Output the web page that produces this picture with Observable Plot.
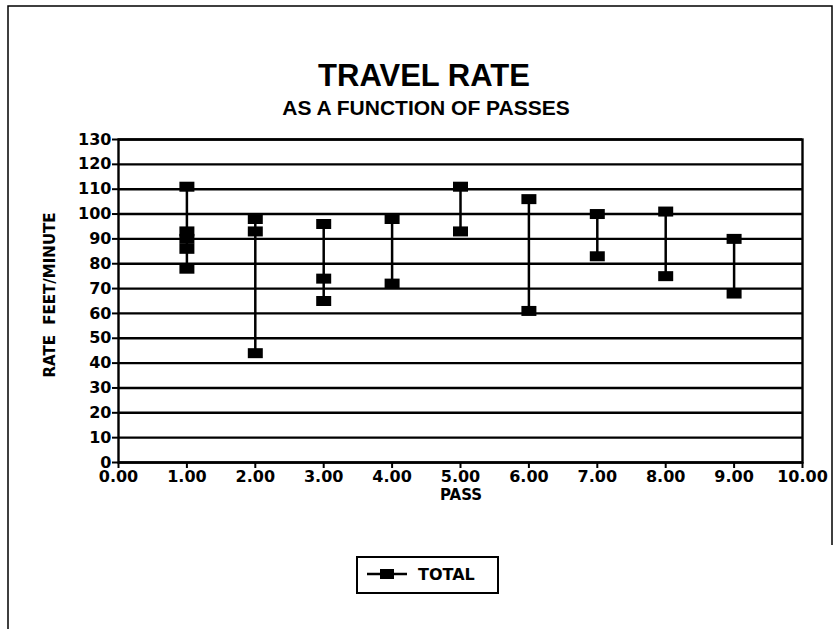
<!DOCTYPE html>
<html>
<head>
<meta charset="utf-8">
<script src="https://cdn.jsdelivr.net/npm/d3@7"></script>
<script src="https://cdn.jsdelivr.net/npm/@observablehq/plot@0.6"></script>
<style>
  html, body { margin: 0; padding: 0; background: #fff; }
  #chart { width: 840px; height: 629px; }
</style>
</head>
<body>
<div id="chart"></div>
<script>
// Data
const passes = [1, 1, 1, 1, 1, 2, 2, 2, 3, 3, 3, 4, 4, 5, 5, 6, 6, 7, 7, 8, 8, 9, 9];
const rates  = [111, 93, 90, 86, 78, 98, 93, 44, 96, 74, 65, 98, 72, 111, 93, 106, 61, 100, 83, 101, 75, 90, 68];
const xTicks = [0, 1, 2, 3, 4, 5, 6, 7, 8, 9, 10];
const yTicks = [0, 10, 20, 30, 40, 50, 60, 70, 80, 90, 100, 110, 120, 130];
const titleText = "TRAVEL RATE";
const subtitleText = "AS A FUNCTION OF PASSES";
const yLabel = "RATE  FEET/MINUTE";
const xLabel = "PASS";
const seriesName = "TOTAL";

const table = passes.map((p, i) => ({pass: p, rate: rates[i]}));

const FONT = "Liberation Sans, Arial, Helvetica, sans-serif";
const TICKFONT = "DejaVu Sans, Liberation Sans, Arial, sans-serif";

// rectangular block marker
const blockSymbol = {
  draw(ctx) { ctx.rect(-7.5, -5, 15, 10); }
};

const svg = Plot.plot({
  width: 840,
  height: 629,
  marginLeft: 118,
  marginRight: 38,
  marginTop: 139,
  marginBottom: 167,
  style: {fontFamily: TICKFONT, fontWeight: "bold", fontSize: "16px", color: "black", background: "white", overflow: "visible"},
  x: {domain: [0, 10]},
  y: {domain: [0, 130]},
  marks: [
    Plot.ruleY(yTicks, {stroke: "black", strokeWidth: 2.4}),
    Plot.frame({stroke: "black", strokeWidth: 2.4}),
    Plot.axisY({ticks: yTicks, tickSize: 6, tickPadding: 1, label: null, fontSize: 16, fontWeight: "bold", strokeWidth: 2}),
    Plot.axisX({ticks: xTicks, tickSize: 6, tickPadding: 2, tickFormat: d3.format(".2f"), label: null, fontSize: 16, fontWeight: "bold", strokeWidth: 2}),
    Plot.ruleX(table, Plot.groupX({y1: "min", y2: "max"}, {x: "pass", y1: "rate", y2: "rate", stroke: "black", strokeWidth: 2.5})),
    Plot.dot(table, {x: "pass", y: "rate", symbol: blockSymbol, r: 5, fill: "black", stroke: "none"})
  ]
});

document.getElementById("chart").appendChild(svg);

const s = d3.select(svg);
// outer border
s.append("path").attr("d", "M8,629V6H832V545").attr("fill", "none").attr("stroke", "black").attr("stroke-width", 1.5);

// titles
s.append("text").text(titleText)
  .attr("x", 424).attr("y", 86).attr("text-anchor", "middle")
  .attr("font-family", FONT).attr("font-weight", "bold").attr("font-size", 31).attr("fill", "black");
s.append("text").text(subtitleText)
  .attr("x", 426).attr("y", 115).attr("text-anchor", "middle")
  .attr("font-family", FONT).attr("font-weight", "bold").attr("font-size", 21).attr("fill", "black");

// axis titles
s.append("text").text(yLabel)
  .attr("transform", "translate(55,295) rotate(-90)").attr("text-anchor", "middle")
  .style("white-space", "pre")
  .attr("font-family", TICKFONT).attr("font-weight", "bold").attr("font-size", 15).attr("fill", "black");
s.append("text").text(xLabel)
  .attr("x", 461).attr("y", 500).attr("text-anchor", "middle")
  .attr("font-family", TICKFONT).attr("font-weight", "bold").attr("font-size", 15).attr("fill", "black");

// legend
const lg = s.append("g");
lg.append("rect").attr("x", 357).attr("y", 557).attr("width", 141).attr("height", 36)
  .attr("fill", "white").attr("stroke", "black").attr("stroke-width", 2);
lg.append("line").attr("x1", 367).attr("x2", 407).attr("y1", 574).attr("y2", 574)
  .attr("stroke", "black").attr("stroke-width", 2.5);
lg.append("rect").attr("x", 380).attr("y", 569).attr("width", 14).attr("height", 10).attr("fill", "black");
lg.append("text").text(seriesName).attr("x", 418).attr("y", 580).attr("text-anchor", "start")
  .attr("font-family", TICKFONT).attr("font-weight", "bold").attr("font-size", 16).attr("fill", "black");
</script>
</body>
</html>
